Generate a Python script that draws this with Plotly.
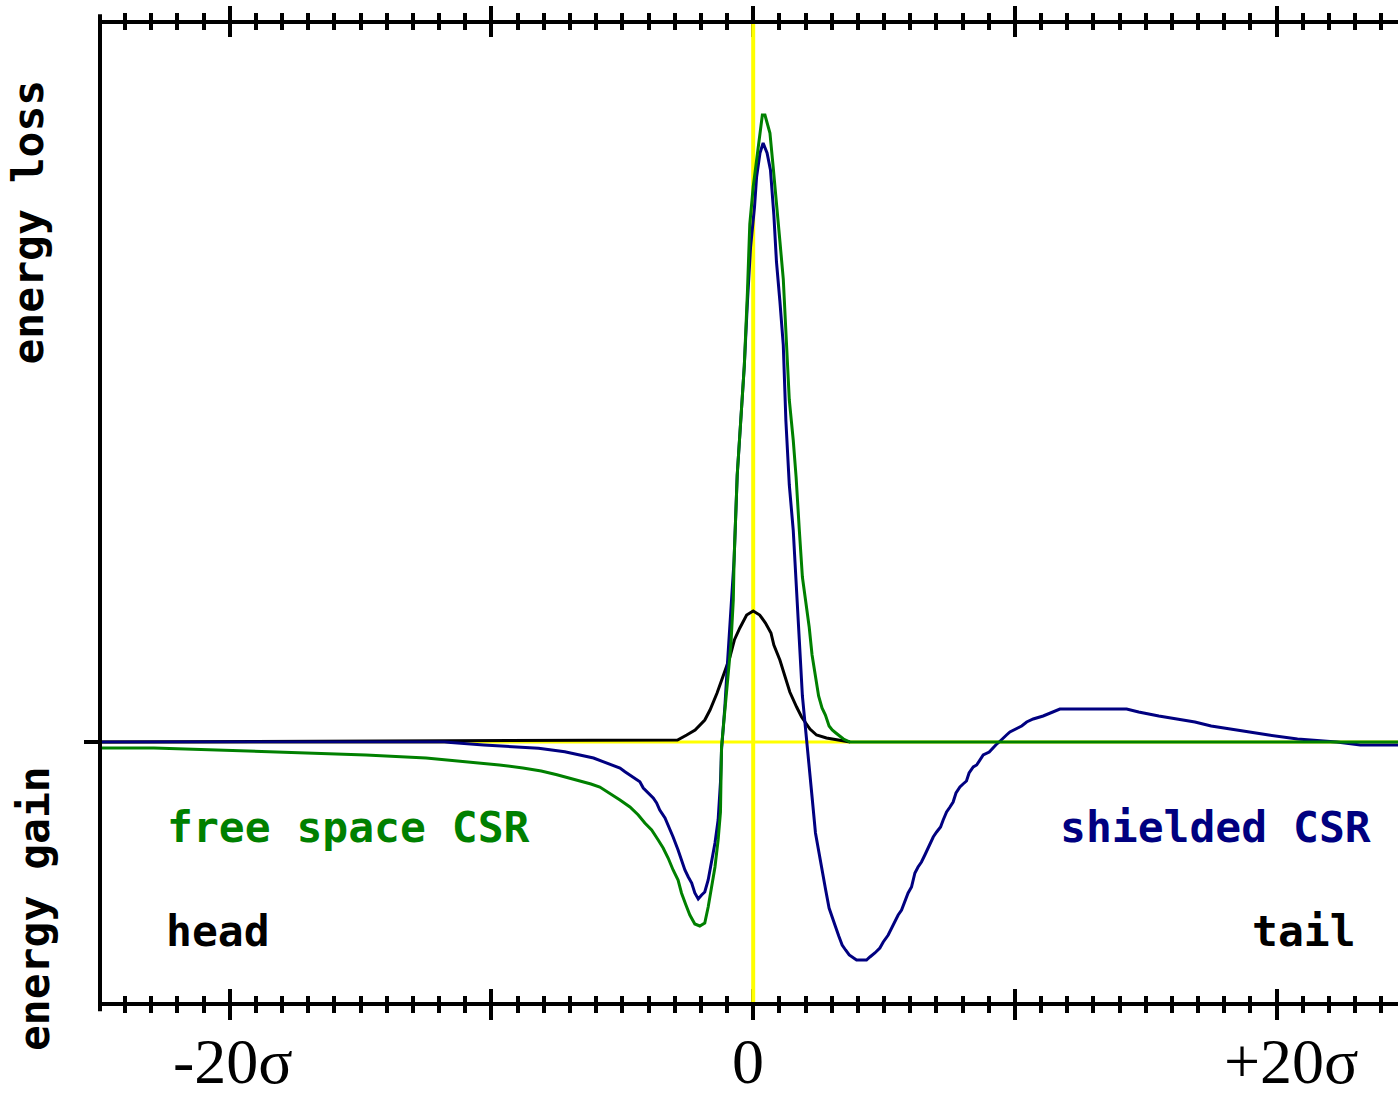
import plotly.graph_objects as go

# ---------------- data (x in units of sigma, y in arbitrary units) ----------------
bunch_s = [-25.0, -2.89, -2.54, -2.22, -1.85, -1.65, -1.38, -1.15, -0.89, -0.72, -0.51, -0.25, 0.0,
           0.25, 0.47, 0.68, 0.79, 1.02, 1.24, 1.40, 1.66, 1.85, 2.17, 2.42, 2.80, 3.31, 3.70]
bunch_y = [0.0, 0.02, 0.07, 0.12, 0.22, 0.32, 0.49, 0.67, 0.85, 1.02, 1.14, 1.27, 1.31,
           1.27, 1.19, 1.09, 0.97, 0.82, 0.62, 0.50, 0.35, 0.25, 0.13, 0.07, 0.04, 0.013, 0.0]

free_s = [-25.0, -22.9, -18.5, -14.8, -12.5, -10.9, -9.7, -8.8, -8.1, -7.5, -7.0, -6.6, -6.2,
          -5.86, -5.48, -5.09, -4.71, -4.39, -4.14, -3.88, -3.63, -3.44, -3.25, -3.06, -2.87,
          -2.74, -2.57, -2.42, -2.23, -2.04, -1.85, -1.72, -1.59, -1.46, -1.34, -1.25, -1.21,
          -1.02, -0.85, -0.76, -0.73, -0.61, -0.48, -0.34, -0.22, -0.13, 0.0, 0.13, 0.26,
          0.35, 0.45, 0.51, 0.64, 0.76, 0.89, 1.02, 1.15, 1.25, 1.38, 1.53, 1.64, 1.76, 1.88,
          2.01, 2.14, 2.25, 2.38, 2.50, 2.63, 2.76, 2.90, 3.02, 3.16, 3.29, 3.45, 3.70, 24.64]
free_y = [-0.06, -0.06, -0.097, -0.13, -0.16, -0.197, -0.23, -0.26, -0.29, -0.327, -0.36, -0.39, -0.42,
          -0.45, -0.51, -0.58, -0.65, -0.73, -0.81, -0.88, -0.98, -1.06, -1.16, -1.28, -1.38,
          -1.51, -1.63, -1.73, -1.82, -1.84, -1.81, -1.65, -1.45, -1.25, -0.98, -0.70, -0.05,
          0.50, 0.98, 1.42, 1.82, 2.67, 3.22, 3.76, 4.50, 5.18, 5.55, 5.84, 6.12,
          6.27, 6.27, 6.22, 6.09, 5.76, 5.35, 5.01, 4.63, 4.03, 3.42, 3.02, 2.65, 2.13, 1.65,
          1.40, 1.15, 0.87, 0.63, 0.46, 0.34, 0.27, 0.16, 0.12, 0.09, 0.06, 0.03, 0.0, 0.0]

shield_s = [-25.0, -11.8, -10.3, -8.2, -7.2, -6.55, -6.1, -5.74, -5.41, -5.09, -4.9, -4.71, -4.52,
            -4.33, -4.2, -4.01, -3.82, -3.69, -3.57, -3.37, -3.21, -3.06, -2.87, -2.74, -2.61,
            -2.48, -2.35, -2.23, -2.10, -1.97, -1.85, -1.72, -1.59, -1.46, -1.34, -1.25, -1.21,
            -1.08, -0.98, -0.86, -0.73, -0.61, -0.48, -0.34, -0.22, -0.10, 0.05, 0.13, 0.26,
            0.38, 0.53, 0.66, 0.79, 0.89, 1.02, 1.15, 1.25, 1.38, 1.53, 1.64, 1.76, 1.88, 2.01,
            2.06, 2.14, 2.25, 2.38, 2.51, 2.64, 2.77, 2.90, 3.02, 3.15, 3.27, 3.40, 3.53, 3.67,
            3.95, 4.14, 4.33, 4.46, 4.65, 4.84, 4.97, 5.16, 5.29, 5.41, 5.54, 5.67, 5.80, 5.92,
            6.05, 6.18, 6.30, 6.43, 6.56, 6.69, 6.78, 6.88, 7.01, 7.16, 7.26, 7.39, 7.52, 7.64,
            7.75, 7.90, 8.02, 8.15, 8.25, 8.41, 8.54, 8.66, 8.79, 9.02, 9.15, 9.27, 9.40, 9.51,
            9.68, 9.81, 10.06, 10.26, 10.45, 10.70, 11.08, 11.46, 11.72, 14.27, 14.73, 15.5,
            16.18, 16.88, 17.5, 18.2, 18.95, 19.7, 20.8, 21.4, 22.3, 23.2, 24.64]
shield_y = [0.0, 0.0, -0.03, -0.063, -0.097, -0.13, -0.16, -0.197, -0.23, -0.26, -0.297, -0.33, -0.36,
            -0.397, -0.46, -0.51, -0.56, -0.61, -0.68, -0.76, -0.85, -0.95, -1.08, -1.18, -1.28,
            -1.35, -1.41, -1.51, -1.57, -1.53, -1.50, -1.38, -1.21, -1.01, -0.78, -0.40, -0.08,
            0.36, 0.80, 1.30, 1.82, 2.67, 3.22, 3.76, 4.40, 4.95, 5.35, 5.65, 5.89,
            5.99, 5.89, 5.72, 5.27, 4.80, 4.41, 3.97, 3.21, 2.57, 2.12, 1.65, 1.03, 0.46, 0.12,
            -0.03, -0.20, -0.55, -0.91, -1.11, -1.27, -1.48, -1.66, -1.76, -1.85, -1.94, -2.03, -2.08, -2.13,
            -2.18, -2.18, -2.18, -2.15, -2.11, -2.06, -2.00, -1.93, -1.86, -1.80, -1.73, -1.68, -1.58, -1.51,
            -1.45, -1.31, -1.25, -1.20, -1.13, -1.05, -1.00, -0.95, -0.90, -0.85, -0.78, -0.70, -0.65, -0.60,
            -0.51, -0.45, -0.42, -0.39, -0.31, -0.25, -0.23, -0.18, -0.13, -0.10, -0.06, -0.03, 0.0, 0.03,
            0.07, 0.10, 0.13, 0.16, 0.20, 0.23, 0.26, 0.30, 0.33, 0.33, 0.30, 0.26,
            0.23, 0.20, 0.16, 0.13, 0.10, 0.07, 0.03, 0.02, 0.0, -0.03, -0.03]

tick_vals = [-20, 0, 20]
tick_text = ["-20σ", "0", "+20σ"]
tick_shift = [3, -5, 15]

X_RANGE = [-24.96, 24.64]
Y_RANGE = [-2.62, 7.20]

GREEN = "#008000"
NAVY = "#000080"
YELLOW = "#FFFF00"
MONO = "DejaVu Sans Mono"

fig = go.Figure()

# yellow reference cross (drawn first, under the curves but over the tick marks)
fig.add_trace(go.Scatter(x=[0, 0], y=Y_RANGE, mode="lines", cliponaxis=False,
                         line=dict(color=YELLOW, width=4), hoverinfo="skip", showlegend=False))
fig.add_trace(go.Scatter(x=X_RANGE, y=[0, 0], mode="lines",
                         line=dict(color=YELLOW, width=3), hoverinfo="skip", showlegend=False))

fig.add_trace(go.Scatter(x=bunch_s, y=bunch_y, mode="lines",
                         line=dict(color="black", width=3), hoverinfo="skip", showlegend=False))
fig.add_trace(go.Scatter(x=shield_s, y=shield_y, mode="lines",
                         line=dict(color=NAVY, width=3), hoverinfo="skip", showlegend=False))
fig.add_trace(go.Scatter(x=free_s, y=free_y, mode="lines",
                         line=dict(color=GREEN, width=3), hoverinfo="skip", showlegend=False))
# dummy traces so the tick-only overlay axes are drawn
for ax in ["x2", "x3", "x4"]:
    fig.add_trace(go.Scatter(x=[None], y=[None], xaxis=ax, yaxis="y", showlegend=False,
                             hoverinfo="skip"))

minor_out = dict(ticks="outside", dtick=1, tick0=0, ticklen=8, tickwidth=3.5,
                 tickcolor="black", showgrid=False)
minor_in = dict(ticks="inside", dtick=1, tick0=0, ticklen=8, tickwidth=3.5,
                tickcolor="black", showgrid=False)
base_x = dict(range=X_RANGE, showgrid=False, zeroline=False, showline=False,
              tickmode="linear", tick0=0, dtick=10, ticklen=15, tickwidth=3.5,
              tickcolor="black", showticklabels=False, fixedrange=True,
              layer="below traces")

fig.update_layout(
    width=1398, height=1098,
    margin=dict(l=100, r=0, t=22, b=94),
    paper_bgcolor="white", plot_bgcolor="white",
    xaxis=dict(**base_x, ticks="outside", minor=minor_out, side="bottom"),
    xaxis2=dict(**base_x, ticks="inside", minor=minor_in, side="bottom",
                overlaying="x", matches="x", anchor="y"),
    xaxis3=dict(**base_x, ticks="outside", minor=minor_out, side="top",
                overlaying="x", matches="x", anchor="y"),
    xaxis4=dict(**base_x, ticks="inside", minor=minor_in, side="top",
                overlaying="x", matches="x", anchor="y"),
    yaxis=dict(range=Y_RANGE, showgrid=False, zeroline=False, showline=False,
               tickmode="array", tickvals=[0], ticks="outside", ticklen=15,
               tickwidth=3.5, tickcolor="black", showticklabels=False, fixedrange=True),
)

# frame lines
fig.add_shape(type="line", xref="paper", yref="paper", x0=0, x1=0, y0=-0.0075, y1=1.008,
              line=dict(color="black", width=4))
fig.add_shape(type="line", xref="paper", yref="paper", x0=0, x1=1, y0=0, y1=0,
              line=dict(color="black", width=4))
fig.add_shape(type="line", xref="paper", yref="paper", x0=0, x1=1, y0=1, y1=1,
              line=dict(color="black", width=4))

# x tick labels
for v, t, sh in zip(tick_vals, tick_text, tick_shift):
    fig.add_annotation(x=v, xref="x", y=0, yref="paper", text=t, showarrow=False,
                       xanchor="center", yanchor="middle", xshift=sh, yshift=-57,
                       font=dict(family="Liberation Serif", size=64, color="black"))

# rotated y labels
fig.add_annotation(x=0, xref="paper", y=0.7958, yref="paper", text="energy loss",
                   textangle=-90, showarrow=False, xanchor="center", yanchor="middle",
                   xshift=-72, font=dict(family=MONO, size=43, color="black", weight="bold"))
fig.add_annotation(x=0, xref="paper", y=0.0967, yref="paper", text="energy gain",
                   textangle=-90, showarrow=False, xanchor="center", yanchor="middle",
                   xshift=-66, font=dict(family=MONO, size=43, color="black", weight="bold"))

# in-plot labels
fig.add_annotation(x=-22.48, y=-0.85, text="free space CSR", showarrow=False,
                   xanchor="left", yanchor="middle",
                   font=dict(family=MONO, size=43, color=GREEN, weight="bold"))
fig.add_annotation(x=-22.52, y=-1.89, text="head", showarrow=False,
                   xanchor="left", yanchor="middle",
                   font=dict(family=MONO, size=43, color="black", weight="bold"))
fig.add_annotation(x=23.68, y=-0.85, text="shielded CSR", showarrow=False,
                   xanchor="right", yanchor="middle",
                   font=dict(family=MONO, size=43, color=NAVY, weight="bold"))
fig.add_annotation(x=23.11, y=-1.89, text="tail", showarrow=False,
                   xanchor="right", yanchor="middle",
                   font=dict(family=MONO, size=43, color="black", weight="bold"))

fig.write_html("out.html", config={"displayModeBar": False})

# remove default page margin so the figure sits at the window origin
with open("out.html", "r", encoding="utf-8") as f:
    html = f.read()
html = html.replace("<body>", '<body style="margin:0;padding:0;overflow:hidden">', 1)
with open("out.html", "w", encoding="utf-8") as f:
    f.write(html)
